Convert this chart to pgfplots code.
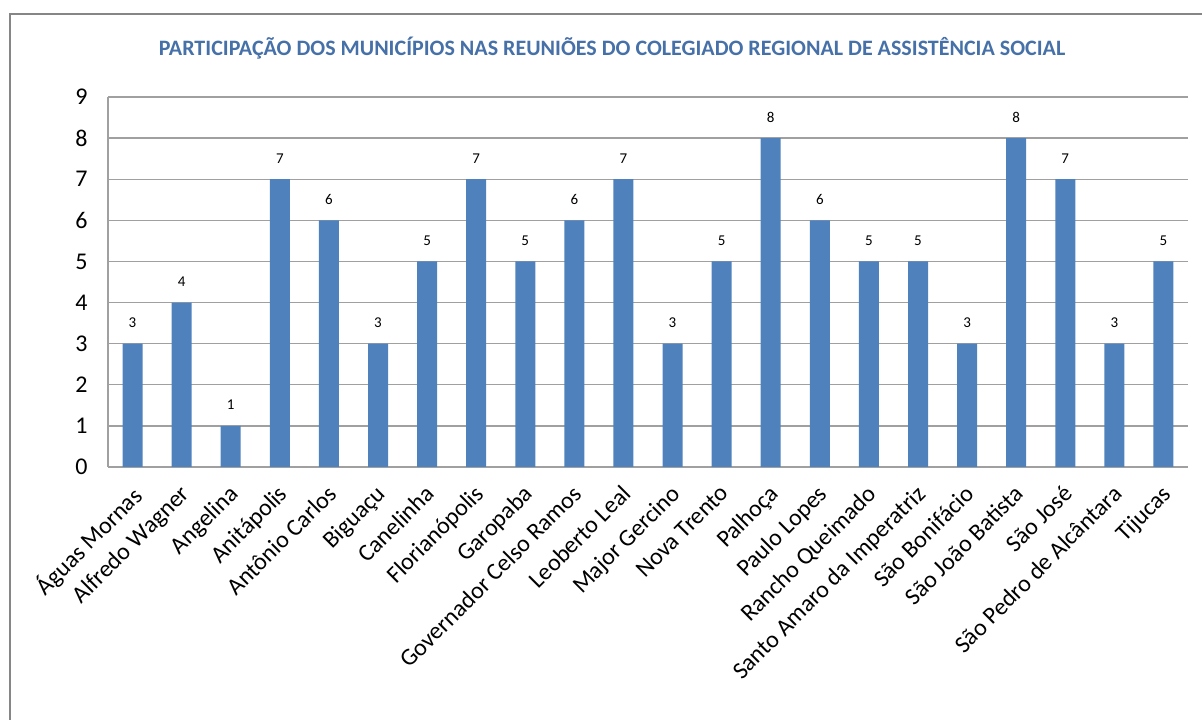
\documentclass[border=0pt]{standalone}
\usepackage{fontspec}
\setmainfont{Carlito}
\usepackage{pgfplots}
\pgfplotsset{compat=1.18}
\definecolor{barblue}{RGB}{79,129,189}
\definecolor{titleblue}{RGB}{70,112,168}
\definecolor{gridgray}{RGB}{160,160,160}
\definecolor{framegray}{RGB}{134,134,134}
\begin{document}
\begin{tikzpicture}[x=1pt,y=1pt]
\useasboundingbox (0,0) rectangle (1202,720);
\draw[framegray, line width=2pt] (10,-5) -- (10,706) -- (1210,706);
\node[font=\fontsize{22}{24}\selectfont\bfseries, text=titleblue] at (612,672) {PARTICIPAÇÃO DOS MUNICÍPIOS NAS REUNIÕES DO COLEGIADO REGIONAL DE ASSISTÊNCIA SOCIAL};
\begin{axis}[
  at={(108pt,253pt)}, anchor=south west,
  scale only axis, width=1080pt, height=370pt,
  xmin=-0.5, xmax=21.5, ymin=0, ymax=9,
  ytick={0,1,...,9},
  xtick=data,
  xticklabels={Águas Mornas, Alfredo Wagner, Angelina, Anitápolis, Antônio Carlos, Biguaçu, Canelinha, Florianópolis, Garopaba, Governador Celso Ramos, Leoberto Leal, Major Gercino, Nova Trento, Palhoça, Paulo Lopes, Rancho Queimado, Santo Amaro da Imperatriz, São Bonifácio, São João Batista, São José, São Pedro de Alcântara, Tijucas},
  x tick label style={xshift=-3pt, yshift=-15pt, rotate=45, anchor=north east, font=\fontsize{24}{24}\selectfont, inner sep=1pt},
  y tick label style={font=\fontsize{24}{24}\selectfont, xshift=-17pt},
  /pgf/number format/assume math mode=true,
  axis x line*=bottom, axis y line*=left,
  axis line style={gridgray, line width=1.3pt, -},
  ymajorgrids, grid style={gridgray, line width=1.3pt},
  major tick length=0pt,
  ybar, bar width=20pt,
  nodes near coords,
  every node near coord/.append style={font=\fontsize{15}{15}\selectfont, anchor=center, yshift=21pt, text=black},
]
\addplot[fill=barblue, draw=none] coordinates {
(0,3) (1,4) (2,1) (3,7) (4,6) (5,3) (6,5) (7,7) (8,5) (9,6) (10,7)
(11,3) (12,5) (13,8) (14,6) (15,5) (16,5) (17,3) (18,8) (19,7) (20,3) (21,5)};
\end{axis}
\end{tikzpicture}
\end{document}
